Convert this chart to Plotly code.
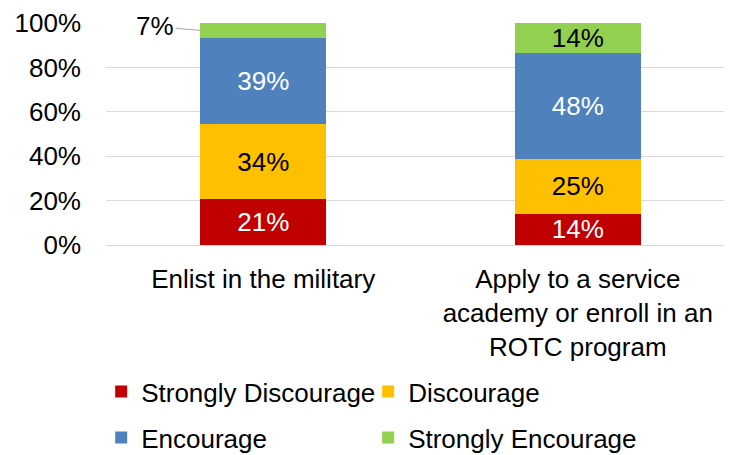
import plotly.graph_objects as go

categories = ["Enlist in the military",
              "Apply to a service<br>academy or enroll in an<br>ROTC program"]
series_names = ["Strongly Discourage", "Discourage", "Encourage", "Strongly Encourage"]
strongly_discourage = [20.6, 14.1]
discourage = [33.7, 24.6]
encourage = [39.0, 47.6]
strongly_encourage = [6.7, 13.7]
y_ticks = [0, 20, 40, 60, 80, 100]
y_tick_labels = ["0%", "20%", "40%", "60%", "80%", "100%"]

colors = ["#C00000", "#FFC000", "#4F81BD", "#92D050"]
text_colors = ["white", "black", "white", "black"]
# 2x2 legend grid: each entry gets its own legend box
legend_ids = ["legend", "legend2", "legend3", "legend4"]
FONT = "Arial, Liberation Sans, sans-serif"
FS = 26

all_series = [strongly_discourage, discourage, encourage, strongly_encourage]
fig = go.Figure()
for i, (name, vals) in enumerate(zip(series_names, all_series)):
    texts = [f"{round(v)}%" for v in vals]
    if i == 3:
        texts[0] = ""  # shown as an outside callout instead
    fig.add_trace(go.Bar(
        x=list(range(len(categories))), y=vals, name=name,
        marker=dict(color=colors[i], line=dict(width=0)),
        width=0.4,
        text=texts, textposition="inside", insidetextanchor="middle",
        constraintext="none",
        textfont=dict(color=text_colors[i], size=FS, family=FONT),
        legend=legend_ids[i],
        hoverinfo="skip",
    ))

# callout for the small top segment of the first bar
base0 = strongly_discourage[0] + discourage[0] + encourage[0]
fig.add_annotation(
    x=-0.2, y=base0 + strongly_encourage[0] / 2, xref="x", yref="y",
    text=f"{round(strongly_encourage[0])}%", showarrow=True, arrowhead=0,
    arrowwidth=1, arrowcolor="#A6A6A6", ax=-45, ay=-4,
    font=dict(size=FS, family=FONT, color="black"),
)

leg_common = dict(orientation="h", xref="container", yref="container",
                  xanchor="left", yanchor="middle",
                  bgcolor="rgba(0,0,0,0)",
                  font=dict(size=FS, family=FONT, color="black"))
col_x = [0.1273, 0.492]
row_y = [0.157, 0.056]
fig.update_layout(
    barmode="stack",
    width=732, height=455,
    margin=dict(l=98, r=5, t=15, b=218, autoexpand=False),
    plot_bgcolor="white", paper_bgcolor="white",
    font=dict(family=FONT, size=FS, color="black"),
    legend=dict(x=col_x[0], y=row_y[0], **leg_common),
    legend2=dict(x=col_x[1], y=row_y[0], **leg_common),
    legend3=dict(x=col_x[0], y=row_y[1], **leg_common),
    legend4=dict(x=col_x[1], y=row_y[1], **leg_common),
    showlegend=True,
)
fig.update_xaxes(
    tickmode="array", tickvals=list(range(len(categories))), ticktext=categories,
    range=[-0.5, 1.5], showgrid=False, showline=True, linecolor="#D9D9D9",
    linewidth=1, ticks="", ticklabelstandoff=11, automargin=False,
    tickfont=dict(size=FS, family=FONT, color="black"),
)
fig.update_yaxes(
    range=[0, 100], tickmode="array", tickvals=y_ticks, ticktext=y_tick_labels,
    showgrid=True, gridcolor="#D9D9D9", gridwidth=1, zeroline=False,
    showline=False, ticks="", ticklabelstandoff=24, automargin=False,
    tickfont=dict(size=FS, family=FONT, color="black"),
)
fig.write_html("out.html")
